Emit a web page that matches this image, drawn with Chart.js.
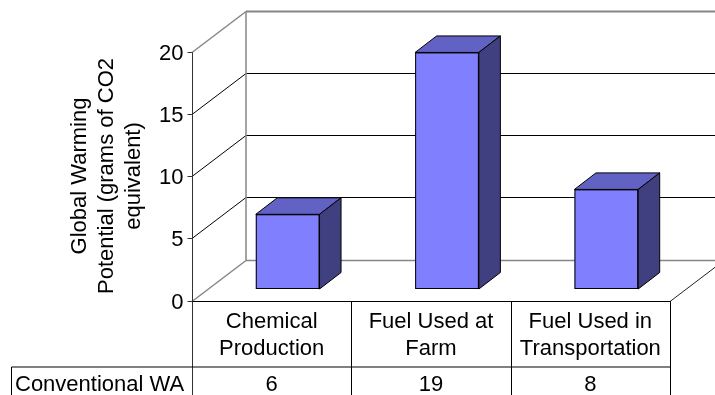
<!DOCTYPE html>
<html>
<head>
<meta charset="utf-8">
<script src="https://cdn.jsdelivr.net/npm/chart.js@4"></script>
<style>
  html, body { margin: 0; padding: 0; background: #fff; }
  #wrap { width: 715px; height: 395px; overflow: hidden; }
</style>
</head>
<body>
<div id="wrap"><canvas id="c" width="715" height="395"></canvas></div>
<script>
// Global warming potential by source, conventional production
const categories = [['Chemical', 'Production'], ['Fuel Used at', 'Farm'], ['Fuel Used in', 'Transportation']];
const seriesName = 'Conventional WA';
const values = [6, 19, 8];
const yTicks = [0, 5, 10, 15, 20];
const axisTitle = ['Global Warming', 'Potential (grams of CO2', 'equivalent)'];

const FONT = '22px "Liberation Sans", Arial, sans-serif';
// Oblique 3D projection: offset of the bar front faces from the axis plane,
// depth of each bar, and depth of the walls.
const FACE_SHIFT = { dx: 16, dy: -11.5 };
const BAR_DEPTH = { dx: 21.5, dy: -16.5 };
const WALL_DEPTH = { dx: 54, dy: -41 };
const EDGE = '#868686';
const COLORS = { front: '#8080FF', top: '#6262C4', side: '#404080' };

function line(ctx, x1, y1, x2, y2, color, w) {
  ctx.beginPath();
  ctx.moveTo(x1, y1);
  ctx.lineTo(x2, y2);
  ctx.strokeStyle = color;
  ctx.lineWidth = w;
  ctx.stroke();
}

function poly(ctx, pts, fill) {
  ctx.beginPath();
  ctx.moveTo(pts[0][0], pts[0][1]);
  for (let i = 1; i < pts.length; i++) ctx.lineTo(pts[i][0], pts[i][1]);
  ctx.closePath();
  ctx.fillStyle = fill;
  ctx.fill();
  ctx.strokeStyle = '#000';
  ctx.lineWidth = 1;
  ctx.stroke();
}

// Helpers mapping into the front (axis) plane
function frame(chart) {
  const xs = chart.scales.x, ys = chart.scales.y, a = chart.chartArea;
  return {
    left: a.left - FACE_SHIFT.dx,
    right: a.right - FACE_SHIFT.dx,
    y: v => ys.getPixelForValue(v) - FACE_SHIFT.dy,
    x: i => xs.getPixelForValue(i) - FACE_SHIFT.dx,
    colW: (a.right - a.left) / categories.length
  };
}

const box3d = {
  id: 'box3d',
  beforeDatasetsDraw(chart) {
    const ctx = chart.ctx, f = frame(chart);
    const W = WALL_DEPTH;
    ctx.save();
    // grid lines on the back and side walls
    yTicks.forEach(v => {
      if (v === 0 || v === yTicks[yTicks.length - 1]) return;
      const y = Math.round(f.y(v)) + 0.5;
      line(ctx, f.left, y, f.left + W.dx, y + W.dy, '#000', 1);
      line(ctx, f.left + W.dx, y + W.dy, f.right + W.dx, y + W.dy, '#000', 1);
    });
    const y0 = Math.round(f.y(0)) + 0.5;
    const yTop = Math.round(f.y(yTicks[yTicks.length - 1])) + 0.5;
    // wall and floor edges
    line(ctx, f.left, yTop, f.left + W.dx, yTop + W.dy, EDGE, 1.5);
    line(ctx, f.left + W.dx, yTop + W.dy, f.right + W.dx, yTop + W.dy, EDGE, 2);
    line(ctx, f.left + W.dx, yTop + W.dy, f.left + W.dx, y0 + W.dy, EDGE, 1.5);
    line(ctx, f.left, y0, f.left + W.dx, y0 + W.dy, EDGE, 1.5);
    line(ctx, f.left + W.dx, y0 + W.dy, f.right + W.dx, y0 + W.dy, EDGE, 1.5);
    line(ctx, f.right, y0, f.right + W.dx, y0 + W.dy, '#222', 1);
    ctx.restore();
  },
  afterDatasetsDraw(chart) {
    const ctx = chart.ctx, D = BAR_DEPTH;
    ctx.save();
    chart.getDatasetMeta(0).data.forEach(bar => {
      const l = bar.x - bar.width / 2, r = bar.x + bar.width / 2;
      const t = bar.y, b = bar.base;
      poly(ctx, [[l, t], [l + D.dx, t + D.dy], [r + D.dx, t + D.dy], [r, t]], COLORS.top);
      poly(ctx, [[r, t], [r + D.dx, t + D.dy], [r + D.dx, b + D.dy], [r, b]], COLORS.side);
      ctx.strokeStyle = '#000';
      ctx.lineWidth = 1;
      ctx.strokeRect(l + 0.5, t + 0.5, r - l - 1, b - t - 1);
    });
    ctx.restore();
  },
  afterDraw(chart) {
    const ctx = chart.ctx, f = frame(chart);
    const H = chart.height;
    const axX = Math.round(f.left) + 0.5;
    const y0 = Math.round(f.y(0)) + 0.5;
    ctx.save();
    // value axis with ticks
    line(ctx, axX, Math.round(f.y(yTicks[yTicks.length - 1])) + 0.5, axX, H, '#333', 1);
    ctx.font = FONT;
    ctx.fillStyle = '#000';
    ctx.textAlign = 'right';
    ctx.textBaseline = 'middle';
    yTicks.forEach(v => {
      const y = Math.round(f.y(v)) + 0.5;
      line(ctx, axX - 5, y, axX, y, '#333', 1);
      ctx.fillText(String(v), axX - 9, y + 1);
    });
    // axis title
    ctx.save();
    ctx.translate(f.left - 85, (f.y(0) + f.y(yTicks[yTicks.length - 1])) / 2);
    ctx.rotate(-Math.PI / 2);
    ctx.textAlign = 'center';
    axisTitle.forEach((s, i) => ctx.fillText(s, 0, (i - 1) * 27));
    ctx.restore();

    // data table
    const rowY = y0 + 65.5;
    const rightX = Math.round(f.right) + 0.5;
    line(ctx, axX, y0, rightX, y0, '#000', 1);
    line(ctx, 11.5, rowY, rightX, rowY, '#000', 1);
    line(ctx, 11.5, rowY, 11.5, H, '#000', 1);
    for (let i = 1; i <= categories.length; i++) {
      const x = Math.round(f.left + i * f.colW) + 0.5;
      line(ctx, x, y0, x, H, '#000', 1);
    }
    ctx.textAlign = 'center';
    categories.forEach((lines, i) => {
      lines.forEach((s, k) => ctx.fillText(s, f.x(i), y0 + 20 + k * 27));
      ctx.fillText(String(values[i]), f.x(i), rowY + 18);
    });
    ctx.textAlign = 'left';
    ctx.fillText(seriesName, 15, rowY + 18);
    ctx.restore();
  }
};

new Chart(document.getElementById('c'), {
  type: 'bar',
  data: {
    labels: categories.map(c => c.join(' ')),
    datasets: [{
      label: seriesName,
      data: values,
      backgroundColor: COLORS.front,
      borderColor: '#000',
      borderWidth: 0,
      barPercentage: 0.4,
      categoryPercentage: 1
    }]
  },
  options: {
    responsive: false,
    animation: false,
    layout: { padding: { left: 208, right: 29, top: 40, bottom: 106 } },
    scales: {
      x: { display: false },
      y: { display: false, min: 0, max: 20 }
    },
    plugins: { legend: { display: false }, tooltip: { enabled: false } }
  },
  plugins: [box3d]
});
</script>
</body>
</html>
